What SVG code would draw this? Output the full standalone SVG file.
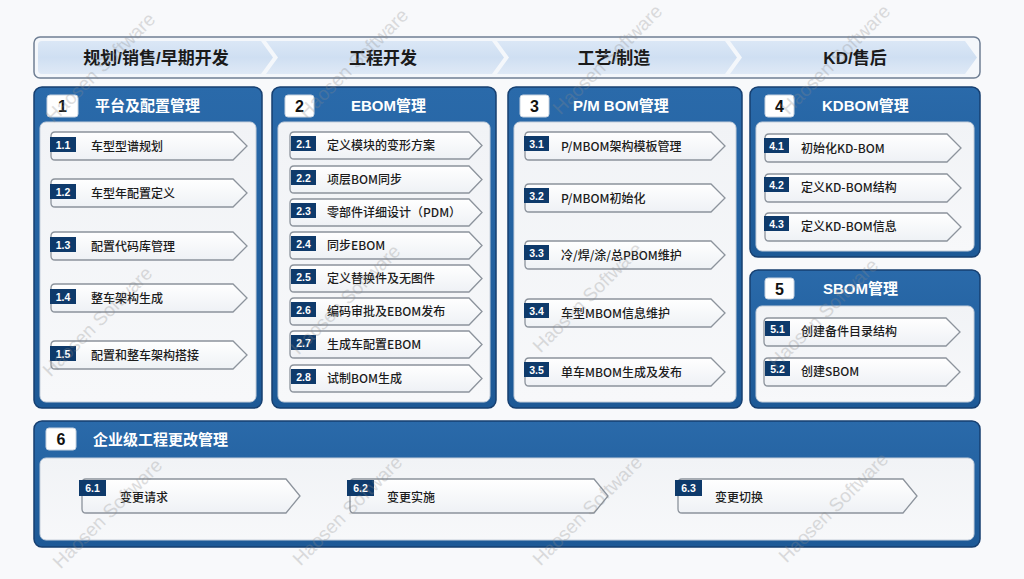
<svg xmlns="http://www.w3.org/2000/svg" xmlns:xlink="http://www.w3.org/1999/xlink" width="1024" height="579" viewBox="0 0 1024 579">
<defs>
<linearGradient id="hdr" x1="0" y1="0" x2="0" y2="1"><stop offset="0" stop-color="#2a6aaa"/><stop offset="1" stop-color="#1d5996"/></linearGradient>
<linearGradient id="seg" x1="0" y1="0" x2="0" y2="1"><stop offset="0" stop-color="#dbe7f6"/><stop offset="0.5" stop-color="#cfdff2"/><stop offset="1" stop-color="#dfe9f6"/></linearGradient>
<linearGradient id="chipg" x1="0" y1="0" x2="0" y2="1"><stop offset="0" stop-color="#ffffff"/><stop offset="1" stop-color="#eef1f5"/></linearGradient>
<linearGradient id="body" x1="0" y1="0" x2="0" y2="1"><stop offset="0" stop-color="#f1f3f6"/><stop offset="1" stop-color="#f7f8fa"/></linearGradient>
<path id="c1" d="M4,0H182L196,14L182,28H4Q0,28 0,24V4Q0,0 4,0Z"/>
<path id="c2" d="M4,0H179L192,13.5L179,27H4Q0,27 0,23V4Q0,0 4,0Z"/>
<path id="c3" d="M4,0H186L200,14L186,28H4Q0,28 0,24V4Q0,0 4,0Z"/>
<path id="c61" d="M4,0H204L218,17L204,34H4Q0,34 0,30V4Q0,0 4,0Z"/>
<path id="c62" d="M4,0H244L258,17L244,34H4Q0,34 0,30V4Q0,0 4,0Z"/>
<path id="c63" d="M4,0H225L239,17L225,34H4Q0,34 0,30V4Q0,0 4,0Z"/>
</defs>
<style>
.chip{fill:url(#chipg);stroke:#8c939c;stroke-width:1.3}
.lb{fill:#0e3a6b}
.lt{font-family:"Liberation Sans",Arial,sans-serif;font-size:10.5px;font-weight:bold;fill:#ffffff;text-anchor:middle}
.it{font-family:"Noto Sans CJK SC","Liberation Sans",sans-serif;font-size:12px;font-weight:500;fill:#1c1c1c}
.pan{fill:url(#hdr);stroke:#163f70;stroke-width:1.5}
.inner{fill:url(#body);stroke:#c5cfdb;stroke-width:1}
.nb{fill:#ffffff;stroke:#c8d3e0;stroke-width:1}
.nt{font-family:"Liberation Sans",Arial,sans-serif;font-size:16px;font-weight:bold;fill:#111;text-anchor:middle}
.tt{font-family:"Liberation Sans","Noto Sans CJK SC",sans-serif;font-size:15px;font-weight:bold;fill:#ffffff}
.st{font-family:"Liberation Sans","Noto Sans CJK SC",sans-serif;font-size:17px;font-weight:bold;fill:#1a1a1a;text-anchor:middle}
.seg{fill:url(#seg)}
.wm{font-family:"Liberation Sans",Arial,sans-serif;font-size:19px;fill:#8a8a8a;opacity:0.28;text-anchor:middle}
</style>
<rect x="0" y="0" width="1024" height="579" fill="#f8f9fb"/>

<g id="stages">
<rect x="34" y="37" width="946" height="41" rx="6" fill="#f4f7fb" stroke="#6f7f94" stroke-width="1.5"/>
<path class="seg" d="M42,41H261L273,57.5L261,74H42Q38,74 38,70V45Q38,41 42,41Z"/>
<path class="seg" d="M266,41H492L504,57.5L492,74H266L278,57.5Z"/>
<path class="seg" d="M497,41H725L737,57.5L725,74H497L509,57.5Z"/>
<path class="seg" d="M730,41H965L977,57.5L965,74H730L742,57.5Z"/>
<text class="st" x="156" y="64">规划/销售/早期开发</text>
<text class="st" x="383" y="64">工程开发</text>
<text class="st" x="614" y="64">工艺/制造</text>
<text class="st" x="855" y="64">KD/售后</text>
</g>

<g id="panel1">
<rect class="pan" x="34" y="87" width="228" height="321" rx="8"/>
<rect class="inner" x="40" y="122" width="216" height="280" rx="6"/>
<rect class="nb" x="47" y="95" width="31" height="22" rx="3"/>
<text class="nt" x="62.5" y="112">1</text>
<text class="tt" x="95" y="111">平台及配置管理</text>
</g>
<g id="n1-1"><use href="#c1" class="chip" x="51" y="132"/><rect class="lb" x="50" y="137" width="26" height="15"/><text class="lt" x="63" y="148.5">1.1</text><text class="it" x="91" y="151">车型型谱规划</text></g>
<g id="n1-2"><use href="#c1" class="chip" x="51" y="179"/><rect class="lb" x="50" y="184" width="26" height="15"/><text class="lt" x="63" y="195.5">1.2</text><text class="it" x="91" y="198">车型年配置定义</text></g>
<g id="n1-3"><use href="#c1" class="chip" x="51" y="232"/><rect class="lb" x="50" y="237" width="26" height="15"/><text class="lt" x="63" y="248.5">1.3</text><text class="it" x="91" y="251">配置代码库管理</text></g>
<g id="n1-4"><use href="#c1" class="chip" x="51" y="284"/><rect class="lb" x="50" y="289" width="26" height="15"/><text class="lt" x="63" y="300.5">1.4</text><text class="it" x="91" y="303">整车架构生成</text></g>
<g id="n1-5"><use href="#c1" class="chip" x="51" y="341"/><rect class="lb" x="50" y="346" width="26" height="15"/><text class="lt" x="63" y="357.5">1.5</text><text class="it" x="91" y="360">配置和整车架构搭接</text></g>

<g id="panel2">
<rect class="pan" x="272" y="87" width="224" height="321" rx="8"/>
<rect class="inner" x="278" y="122" width="212" height="280" rx="6"/>
<rect class="nb" x="285" y="95" width="29" height="22" rx="3"/>
<text class="nt" x="299.5" y="112">2</text>
<text class="tt" x="351" y="111">EBOM管理</text>
</g>
<g id="n2-1"><use href="#c2" class="chip" x="290" y="132"/><rect class="lb" x="291" y="136" width="25" height="15"/><text class="lt" x="303.5" y="147.5">2.1</text><text class="it" x="327" y="150">定义模块的变形方案</text></g>
<g id="n2-2"><use href="#c2" class="chip" x="290" y="166"/><rect class="lb" x="291" y="170" width="25" height="15"/><text class="lt" x="303.5" y="181.5">2.2</text><text class="it" x="327" y="184">项层BOM同步</text></g>
<g id="n2-3"><use href="#c2" class="chip" x="290" y="199"/><rect class="lb" x="291" y="203" width="25" height="15"/><text class="lt" x="303.5" y="214.5">2.3</text><text class="it" x="327" y="217">零部件详细设计（PDM）</text></g>
<g id="n2-4"><use href="#c2" class="chip" x="290" y="232"/><rect class="lb" x="291" y="236" width="25" height="15"/><text class="lt" x="303.5" y="247.5">2.4</text><text class="it" x="327" y="250">同步EBOM</text></g>
<g id="n2-5"><use href="#c2" class="chip" x="290" y="265"/><rect class="lb" x="291" y="269" width="25" height="15"/><text class="lt" x="303.5" y="280.5">2.5</text><text class="it" x="327" y="283">定义替换件及无图件</text></g>
<g id="n2-6"><use href="#c2" class="chip" x="290" y="298"/><rect class="lb" x="291" y="302" width="25" height="15"/><text class="lt" x="303.5" y="313.5">2.6</text><text class="it" x="327" y="316">编码审批及EBOM发布</text></g>
<g id="n2-7"><use href="#c2" class="chip" x="290" y="331"/><rect class="lb" x="291" y="335" width="25" height="15"/><text class="lt" x="303.5" y="346.5">2.7</text><text class="it" x="327" y="349">生成车配置EBOM</text></g>
<g id="n2-8"><use href="#c2" class="chip" x="290" y="365"/><rect class="lb" x="291" y="369" width="25" height="15"/><text class="lt" x="303.5" y="380.5">2.8</text><text class="it" x="327" y="383">试制BOM生成</text></g>

<g id="panel3">
<rect class="pan" x="508" y="87" width="234" height="321" rx="8"/>
<rect class="inner" x="514" y="122" width="222" height="280" rx="6"/>
<rect class="nb" x="520" y="95" width="29" height="22" rx="3"/>
<text class="nt" x="534.5" y="112">3</text>
<text class="tt" x="573" y="111">P/M BOM管理</text>
</g>
<g id="n3-1"><use href="#c3" class="chip" x="525" y="132"/><rect class="lb" x="524" y="136" width="25" height="15"/><text class="lt" x="536.5" y="147.5">3.1</text><text class="it" x="561" y="151">P/MBOM架构模板管理</text></g>
<g id="n3-2"><use href="#c3" class="chip" x="525" y="184"/><rect class="lb" x="524" y="188" width="25" height="15"/><text class="lt" x="536.5" y="199.5">3.2</text><text class="it" x="561" y="203">P/MBOM初始化</text></g>
<g id="n3-3"><use href="#c3" class="chip" x="525" y="241"/><rect class="lb" x="524" y="245" width="25" height="15"/><text class="lt" x="536.5" y="256.5">3.3</text><text class="it" x="561" y="260">冷/焊/涂/总PBOM维护</text></g>
<g id="n3-4"><use href="#c3" class="chip" x="525" y="299"/><rect class="lb" x="524" y="303" width="25" height="15"/><text class="lt" x="536.5" y="314.5">3.4</text><text class="it" x="561" y="318">车型MBOM信息维护</text></g>
<g id="n3-5"><use href="#c3" class="chip" x="525" y="358"/><rect class="lb" x="524" y="362" width="25" height="15"/><text class="lt" x="536.5" y="373.5">3.5</text><text class="it" x="561" y="377">单车MBOM生成及发布</text></g>

<g id="panel4">
<rect class="pan" x="750" y="87" width="230" height="170" rx="8"/>
<rect class="inner" x="756" y="122" width="218" height="129" rx="6"/>
<rect class="nb" x="765" y="95" width="29" height="22" rx="3"/>
<text class="nt" x="779.5" y="112">4</text>
<text class="tt" x="822" y="111">KDBOM管理</text>
</g>
<g id="n4-1"><use href="#c1" class="chip" x="765" y="134"/><rect class="lb" x="764" y="138" width="25" height="15"/><text class="lt" x="776.5" y="149.5">4.1</text><text class="it" x="801" y="153">初始化KD-BOM</text></g>
<g id="n4-2"><use href="#c1" class="chip" x="765" y="174"/><rect class="lb" x="764" y="177" width="25" height="15"/><text class="lt" x="776.5" y="188.5">4.2</text><text class="it" x="801" y="192">定义KD-BOM结构</text></g>
<g id="n4-3"><use href="#c1" class="chip" x="765" y="213"/><rect class="lb" x="764" y="216" width="25" height="15"/><text class="lt" x="776.5" y="227.5">4.3</text><text class="it" x="801" y="231">定义KD-BOM信息</text></g>

<g id="panel5">
<rect class="pan" x="750" y="270" width="230" height="138" rx="8"/>
<rect class="inner" x="756" y="306" width="218" height="96" rx="6"/>
<rect class="nb" x="765" y="278" width="29" height="21" rx="3"/>
<text class="nt" x="779.5" y="294.5">5</text>
<text class="tt" x="823" y="294">SBOM管理</text>
</g>
<g id="n5-1"><use href="#c1" class="chip" x="764" y="318"/><rect class="lb" x="765" y="321" width="25" height="15"/><text class="lt" x="777.5" y="332.5">5.1</text><text class="it" x="801" y="336">创建备件目录结构</text></g>
<g id="n5-2"><use href="#c1" class="chip" x="764" y="358"/><rect class="lb" x="765" y="361" width="25" height="15"/><text class="lt" x="777.5" y="372.5">5.2</text><text class="it" x="801" y="376">创建SBOM</text></g>

<g id="panel6">
<rect class="pan" x="34" y="421" width="946" height="126" rx="8"/>
<rect class="inner" x="40" y="458" width="934" height="82" rx="6"/>
<rect class="nb" x="46" y="428" width="30" height="22" rx="3"/>
<text class="nt" x="61" y="445">6</text>
<text class="tt" x="93" y="444.5">企业级工程更改管理</text>
</g>
<g id="n6-1"><use href="#c61" class="chip" x="82" y="479"/><rect class="lb" x="79" y="480" width="27" height="16"/><text class="lt" x="92.5" y="492">6.1</text><text class="it" x="120" y="502">变更请求</text></g>
<g id="n6-2"><use href="#c62" class="chip" x="350" y="479"/><rect class="lb" x="347" y="480" width="27" height="16"/><text class="lt" x="360.5" y="492">6.2</text><text class="it" x="387" y="502">变更实施</text></g>
<g id="n6-3"><use href="#c63" class="chip" x="678" y="479"/><rect class="lb" x="675" y="480" width="27" height="16"/><text class="lt" x="688.5" y="492">6.3</text><text class="it" x="715" y="502">变更切换</text></g>

<g id="connectors"></g>

<g id="watermarks">
<text class="wm" transform="translate(105,72) rotate(-45)">Haosen Software</text>
<text class="wm" transform="translate(358,68) rotate(-45)">Haosen Software</text>
<text class="wm" transform="translate(612,64) rotate(-45)">Haosen Software</text>
<text class="wm" transform="translate(840,64) rotate(-45)">Haosen Software</text>
<text class="wm" transform="translate(102,326) rotate(-45)">Haosen Software</text>
<text class="wm" transform="translate(350,304) rotate(-45)">Haosen Software</text>
<text class="wm" transform="translate(592,302) rotate(-45)">Haosen Software</text>
<text class="wm" transform="translate(828,318) rotate(-45)">Haosen Software</text>
<text class="wm" transform="translate(112,518) rotate(-45)">Haosen Software</text>
<text class="wm" transform="translate(352,515) rotate(-45)">Haosen Software</text>
<text class="wm" transform="translate(592,515) rotate(-45)">Haosen Software</text>
<text class="wm" transform="translate(838,512) rotate(-45)">Haosen Software</text>
</g>
</svg>
